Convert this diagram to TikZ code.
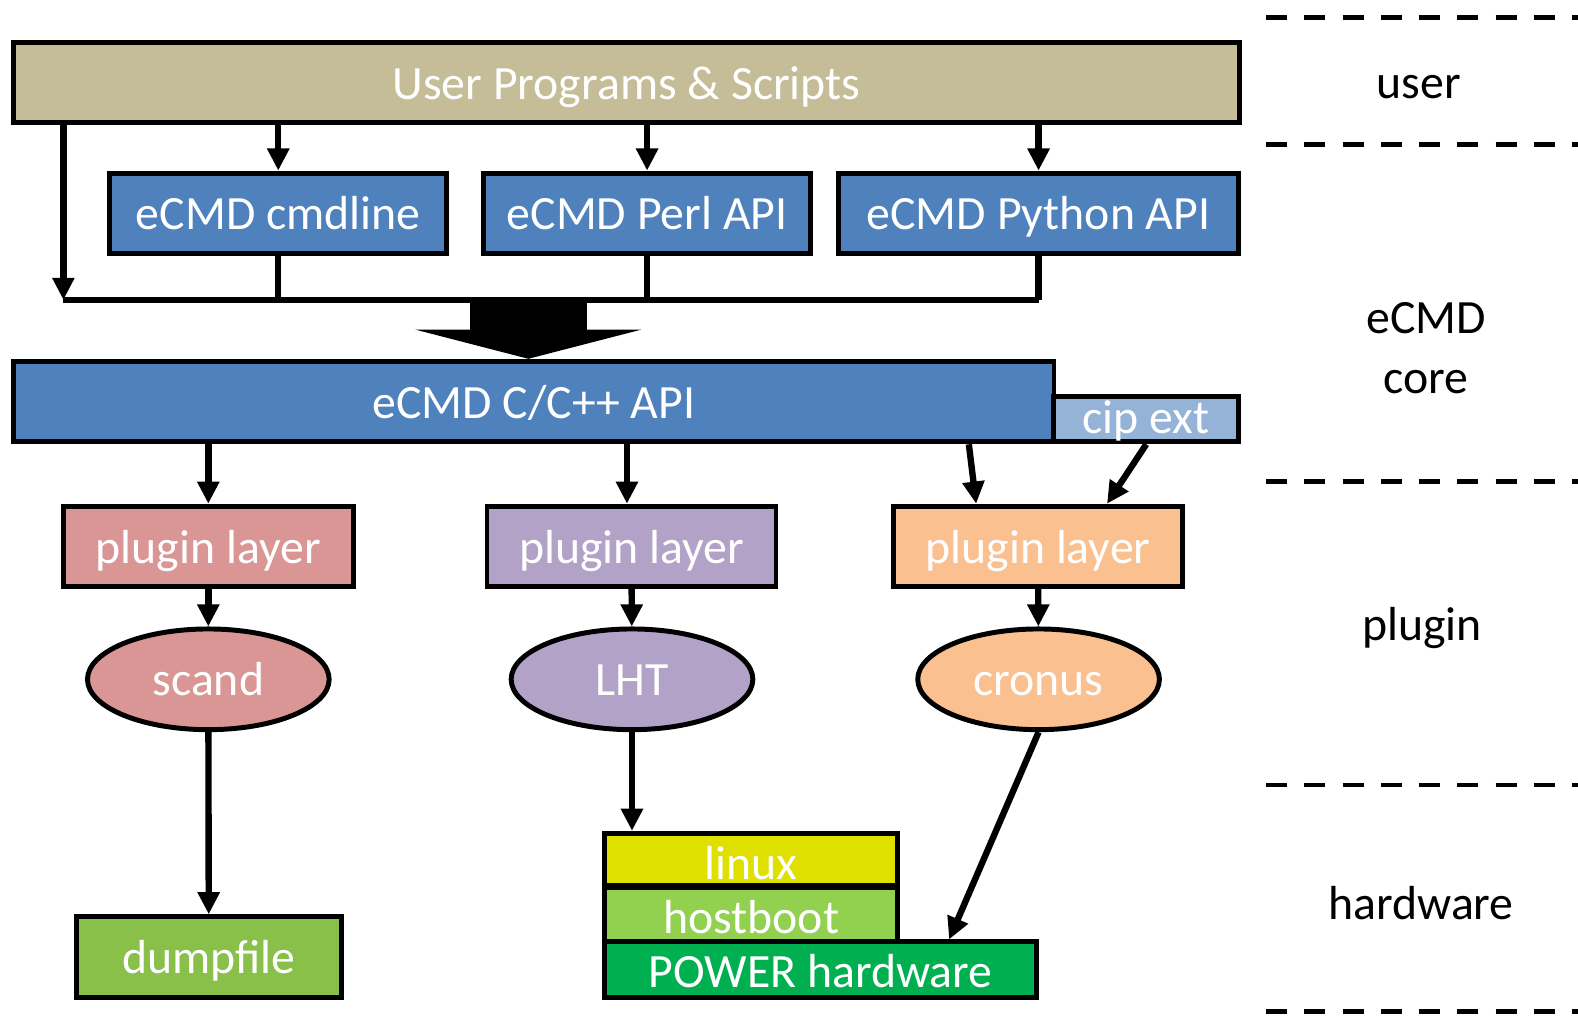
\documentclass[tikz,border=0pt]{standalone}
\usepackage{fontspec}
\setmainfont{Carlito}
\usepackage{tikz}
\usepackage{xcolor}
\usetikzlibrary{positioning}
\usetikzlibrary{arrows.meta}
\usetikzlibrary{shapes.geometric}
\definecolor{usertan}{RGB}{196,189,151}
\definecolor{ecmdblue}{RGB}{79,129,189}
\definecolor{cipblue}{RGB}{149,179,215}
\definecolor{scandred}{RGB}{217,150,148}
\definecolor{lhtpurple}{RGB}{179,162,199}
\definecolor{cronusorange}{RGB}{250,192,144}
\definecolor{dumpgreen}{RGB}{136,192,74}
\definecolor{linuxyellow}{RGB}{224,224,0}
\definecolor{hbgreen}{RGB}{146,208,80}
\definecolor{powergreen}{RGB}{0,176,80}
\tikzset{layerbox/.style={draw, line width=1.4pt, inner sep=0pt, text=white,
font=\fontsize{13.5}{16}\selectfont, text height=0.33cm, text depth=0cm,
minimum height=0.8cm},
toolell/.style={layerbox, ellipse, minimum width=2.4cm, minimum height=1cm},
thinbox/.style={layerbox, text height=0.39cm},
arr/.style={line width=1.8pt, -{Triangle[length=0.22cm, width=0.21cm]}},
link/.style={line width=1.8pt},
layerline/.style={line width=1.4pt, dash pattern=on 0.21cm off 0.17cm},
layerlabel/.style={font=\fontsize{13.5}{16.8}\selectfont, inner sep=0pt}}

\begin{document}
\begin{tikzpicture}[x=0.01cm, y=-0.01cm]
\useasboundingbox (0,0) rectangle (1568,1008.6);
% top layer
\node[layerbox, fill=usertan, minimum width=12.17cm] (user) at (622.5,82) {User Programs \& Scripts};
\node[layerbox, fill=ecmdblue, minimum width=3.35cm] (cmdline) at (276.5,212) {eCMD cmdline};
\node[layerbox, fill=ecmdblue, minimum width=3.24cm] (perl) at (643,212) {eCMD Perl API};
\node[layerbox, fill=ecmdblue, minimum width=3.98cm] (python) at (1032,212) {eCMD Python API};
\coordinate (busL) at (63,298);
\coordinate (busR) at (1032,298);
\coordinate (merge) at (525,298);
\draw[arr] (busL |- user.south) -- (busL);
\foreach \n in {cmdline,perl,python}
  \draw[arr] (\n.north |- user.south) -- (\n.north);
\foreach \n in {cmdline,perl,python}
  \draw[link] (\n.south) -- (\n.south |- busL);
\draw[link] (busL) -- (busR);
% core
\node[layerbox, fill=ecmdblue, minimum width=10.33cm] (api) at (530.5,399) {eCMD C/C++ API};
\node[layerbox, fill=cipblue, minimum width=1.84cm, minimum height=0.45cm, text height=0.28cm] (cip) at (1139,416.5) {cip ext};
\draw[line width=1.16cm, -{Triangle[length=0.29cm, width=2.24cm]}] (merge) -- (merge |- api.north);
% plugins
\node[layerbox, fill=scandred, minimum width=2.88cm] (scandpl) at (207,543) {plugin layer};
\node[layerbox, fill=lhtpurple, minimum width=2.87cm] (lhtpl) at (627.5,543) {plugin layer};
\node[layerbox, fill=cronusorange, minimum width=2.87cm] (cronuspl) at (1031.5,543) {plugin layer};
\node[toolell, fill=scandred] (scand) at (207,675) {scand};
\node[toolell, fill=lhtpurple] (lht) at (628,675) {LHT};
\node[toolell, fill=cronusorange] (cronus) at (1032,675) {cronus};
\draw[arr] (scandpl.north |- api.south) -- (scandpl.north);
\draw[arr] ([xshift=-0.045cm]lhtpl.north |- api.south) -- ([xshift=-0.045cm]lhtpl.north);
\draw[arr] ([xshift=-0.87cm]api.south east) -- ([xshift=-0.615cm]cronuspl.north);
\draw[arr] (cip.south) -- ([xshift=0.685cm]cronuspl.north);
\draw[arr] (scandpl) -- (scand);
\draw[arr] (lhtpl) -- (lht);
\draw[arr] (cronuspl) -- (cronus);
% hardware
\node[layerbox, fill=dumpgreen, minimum width=2.63cm] (dump) at (207.5,951) {dumpfile};
\node[thinbox, fill=linuxyellow, minimum width=2.91cm, minimum height=0.52cm] (linux) at (746.5,854) {linux};
\node[thinbox, fill=hbgreen, minimum width=2.91cm, minimum height=0.53cm] (hostboot) at (746.5,908.5) {hostboot};
\node[thinbox, fill=powergreen, minimum width=4.29cm, minimum height=0.55cm, text height=0.36cm] (power) at (815.5,963.5) {POWER hardware};
\draw[arr] (scand) -- (dump);
\draw[arr] (lht.south) -- (lht.south |- linux.north);
\draw[arr] (cronus.south) -- ([xshift=1.275cm]power.north);
% layers
\foreach \ly in {17,144,478,780,1005}
  \draw[layerline] (1258,\ly) -- (1578,\ly);
\node[layerlabel, anchor=base] (userlbl) at (1410,98) {user};
\node[layerlabel, anchor=north, align=center] (corelbl) at (1417,300) {eCMD\\core};
\node[layerlabel, anchor=base] (pluginlbl) at (1413,636) {plugin};
\node[layerlabel, anchor=base] (hwlbl) at (1412,914) {hardware};
\end{tikzpicture}
\end{document}
